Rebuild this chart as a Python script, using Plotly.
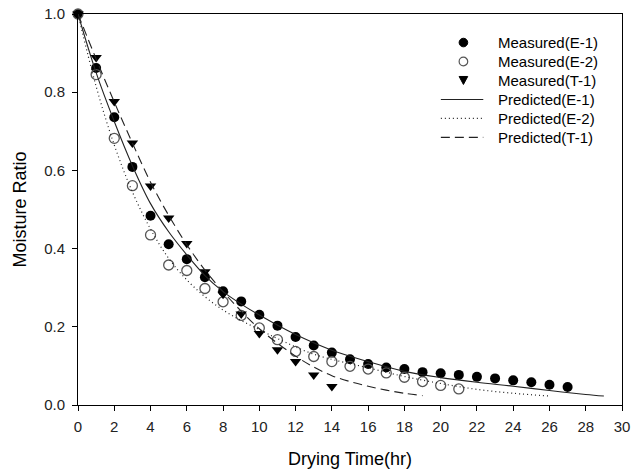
import plotly.graph_objects as go

# ---- data ----
t_e1 = list(range(0, 28))
mr_e1 = [1.0, 0.862, 0.736, 0.609, 0.484, 0.411, 0.373, 0.327, 0.291, 0.265, 0.231,
         0.203, 0.174, 0.152, 0.134, 0.117, 0.105, 0.096, 0.092, 0.084, 0.081,
         0.077, 0.072, 0.068, 0.063, 0.058, 0.052, 0.046]

t_e2 = list(range(0, 22))
mr_e2 = [1.0, 0.845, 0.682, 0.561, 0.435, 0.358, 0.344, 0.298, 0.264, 0.229, 0.197,
         0.167, 0.137, 0.124, 0.111, 0.099, 0.092, 0.082, 0.071, 0.060, 0.050, 0.041]

t_t1 = list(range(0, 15))
mr_t1 = [1.0, 0.889, 0.776, 0.670, 0.560, 0.478, 0.413, 0.341, 0.283, 0.233, 0.183,
         0.141, 0.111, 0.077, 0.047]

tp_e1 = [0, 1, 2, 3, 4, 5, 6, 7, 8, 9, 10, 12, 14, 16, 18, 20, 22, 24, 26, 28, 29]
pr_e1 = [1.0, 0.850, 0.725, 0.612, 0.515, 0.443, 0.384, 0.331, 0.290, 0.258, 0.230,
         0.180, 0.140, 0.111, 0.086, 0.070, 0.058, 0.048, 0.037, 0.027, 0.023]

tp_e2 = [0, 1, 2, 3, 4, 5, 6, 7, 8, 9, 10, 11, 13, 16, 18, 20, 22, 24, 26]
pr_e2 = [1.0, 0.815, 0.665, 0.545, 0.450, 0.375, 0.320, 0.277, 0.243, 0.216, 0.193,
         0.170, 0.130, 0.095, 0.073, 0.055, 0.040, 0.030, 0.023]

tp_t1 = [0, 1, 2, 3, 4, 5, 6, 7, 8, 9, 10, 11, 12, 13, 14, 15, 16, 17, 18, 19]
pr_t1 = [1.0, 0.885, 0.775, 0.670, 0.570, 0.485, 0.410, 0.345, 0.290, 0.240, 0.195,
         0.158, 0.125, 0.097, 0.075, 0.060, 0.048, 0.038, 0.030, 0.024]

x_ticks = list(range(0, 31, 2))
y_ticks = [0.0, 0.2, 0.4, 0.6, 0.8, 1.0]

legend_labels = ["Measured(E-1)", "Measured(E-2)", "Measured(T-1)",
                 "Predicted(E-1)", "Predicted(E-2)", "Predicted(T-1)"]

FONT = "Liberation Sans, Arial"
LINE_COL = "#222222"
OPEN_COL = "#555555"
DOT_DASH = "1px,3px"
LONG_DASH = "9px,5px"

fig = go.Figure()

fig.add_trace(go.Scatter(x=t_e1, y=mr_e1, mode="markers", name=legend_labels[0],
                         marker=dict(symbol="circle", size=10, color="black"),
                         cliponaxis=False, showlegend=False))
fig.add_trace(go.Scatter(x=t_e2, y=mr_e2, mode="markers", name=legend_labels[1],
                         marker=dict(symbol="circle-open", size=10, color=OPEN_COL,
                                     line=dict(width=1.3, color=OPEN_COL)),
                         cliponaxis=False, showlegend=False))
fig.add_trace(go.Scatter(x=t_t1, y=mr_t1, mode="markers", name=legend_labels[2],
                         marker=dict(symbol="triangle-down", size=10, color="black"),
                         cliponaxis=False, showlegend=False))
fig.add_trace(go.Scatter(x=tp_e1, y=pr_e1, mode="lines", name=legend_labels[3],
                         line=dict(color=LINE_COL, width=1.1, shape="spline"),
                         showlegend=False))
fig.add_trace(go.Scatter(x=tp_e2, y=pr_e2, mode="lines", name=legend_labels[4],
                         line=dict(color=LINE_COL, width=1.2, dash=DOT_DASH, shape="spline"),
                         showlegend=False))
fig.add_trace(go.Scatter(x=tp_t1, y=pr_t1, mode="lines", name=legend_labels[5],
                         line=dict(color=LINE_COL, width=1.1, dash=LONG_DASH, shape="spline"),
                         showlegend=False))

axis_common = dict(showline=True, linecolor="black", linewidth=1, mirror=True,
                   ticks="outside", ticklen=5, tickcolor="black", tickwidth=1,
                   showgrid=False, zeroline=False, automargin=False,
                   tickfont=dict(family=FONT, size=15, color="#222222"))

fig.update_xaxes(range=[0, 30], tickvals=x_ticks, ticktext=[str(v) for v in x_ticks],
                 ticklabelstandoff=3,
                 title=dict(text="Drying Time(hr)", standoff=18,
                            font=dict(family=FONT, size=18, color="black")),
                 **axis_common)
fig.update_yaxes(range=[0, 1], tickvals=y_ticks, ticktext=[f"{v:.1f}" for v in y_ticks],
                 ticklabelstandoff=4,
                 title=dict(text="Moisture Ratio", standoff=12,
                            font=dict(family=FONT, size=18, color="black")),
                 **axis_common)

# ---- hand-built legend (keys + labels, in paper coordinates) ----
PLOT_W, PLOT_H = 544.0, 391.5
row0, row_step = 0.927, 0.0485
key_x = 0.7085            # marker key centre
line_x0, line_x1 = 0.667, 0.745
text_x = 0.768
r_px = 4.3                # key marker radius in px
rx, ry = r_px / PLOT_W, r_px / PLOT_H

shapes = []
annotations = []
for i, lab in enumerate(legend_labels):
    yy = row0 - i * row_step
    annotations.append(dict(xref="paper", yref="paper", x=text_x, y=yy, text=lab,
                            showarrow=False, xanchor="left", yanchor="middle",
                            font=dict(family=FONT, size=15, color="black")))
# key 1: filled circle
y1 = row0
shapes.append(dict(type="circle", xref="paper", yref="paper",
                   x0=key_x - rx, x1=key_x + rx, y0=y1 - ry, y1=y1 + ry,
                   fillcolor="black", line=dict(color="black", width=1)))
# key 2: open circle
y2 = row0 - row_step
shapes.append(dict(type="circle", xref="paper", yref="paper",
                   x0=key_x - rx, x1=key_x + rx, y0=y2 - ry, y1=y2 + ry,
                   fillcolor="rgba(0,0,0,0)", line=dict(color=OPEN_COL, width=1.2)))
# key 3: down triangle
y3 = row0 - 2 * row_step
tw, th = 4.3 / PLOT_W, 4.0 / PLOT_H
shapes.append(dict(type="path", xref="paper", yref="paper",
                   path=f"M {key_x - tw} {y3 + th} L {key_x + tw} {y3 + th} L {key_x} {y3 - th} Z",
                   fillcolor="black", line=dict(color="black", width=1)))
# keys 4-6: line samples
for i, dash in zip([3, 4, 5], ["solid", DOT_DASH, LONG_DASH]):
    yy = row0 - i * row_step
    shapes.append(dict(type="line", xref="paper", yref="paper",
                       x0=line_x0, x1=line_x1, y0=yy, y1=yy,
                       line=dict(color=LINE_COL, width=1.1, dash=dash)))

fig.update_layout(
    width=642, height=471,
    margin=dict(l=78, r=20, t=14, b=66),
    paper_bgcolor="white", plot_bgcolor="white",
    showlegend=False,
    shapes=shapes,
    annotations=annotations,
)

fig.write_html("out.html")
